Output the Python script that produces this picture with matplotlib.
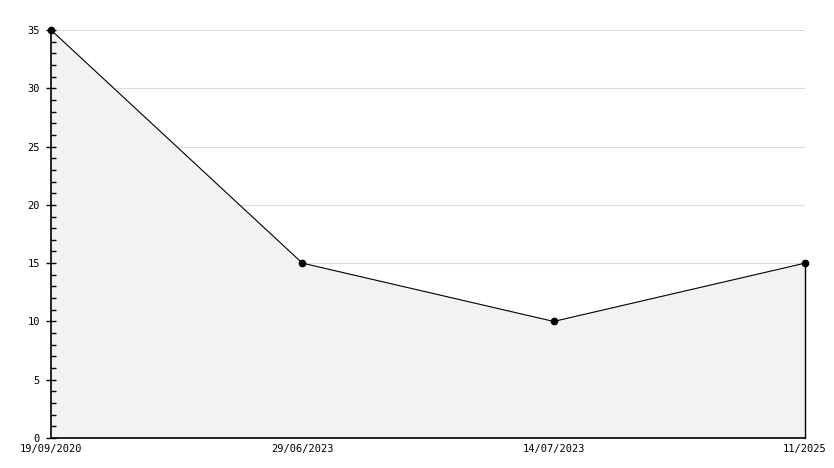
import matplotlib.pyplot as plt
from matplotlib.ticker import MultipleLocator

# data
dates = ["19/09/2020", "29/06/2023", "14/07/2023", "11/2025"]
values = [35, 15, 10, 15]

x = list(range(len(dates)))

fig = plt.figure(figsize=(8.34, 4.68), dpi=100)
ax = fig.add_axes([51 / 834, 30 / 468, (805 - 51) / 834, (438 - 30) / 468])

# grid lines under the fill, ticks above it
for yv in range(5, 40, 5):
    ax.axhline(yv, color="#dcdcdc", lw=0.8, zorder=0.5)

# grey area under the line, with black edge on the right
ax.fill_between(x, values, 0, color="#f2f2f2", zorder=1)
ax.plot([x[-1], x[-1]], [0, values[-1]], color="black", lw=1, zorder=2, clip_on=False)
ax.plot(x, values, color="black", lw=0.8, marker="o", markersize=4.5, zorder=3, clip_on=False)

ax.set_xlim(x[0], x[-1])
ax.set_ylim(0, 35)
ax.yaxis.set_major_locator(MultipleLocator(5))
ax.yaxis.set_minor_locator(MultipleLocator(1))

for s in ["top", "right"]:
    ax.spines[s].set_visible(False)
ax.spines["left"].set_linewidth(1.2)
ax.spines["bottom"].set_linewidth(1.2)

ax.tick_params(axis="y", which="major", direction="inout", length=7, width=1, labelsize=7.5, pad=4.5)
ax.tick_params(axis="y", which="minor", direction="in", length=3.5, width=1)
ax.tick_params(axis="x", length=0, labelsize=7.5, pad=4)
ax.set_xticks(x)
ax.set_xticklabels(dates, fontfamily="DejaVu Sans Mono")
for lbl in ax.get_yticklabels():
    lbl.set_fontfamily("DejaVu Sans Mono")

fig.savefig("out.png", dpi=100)
